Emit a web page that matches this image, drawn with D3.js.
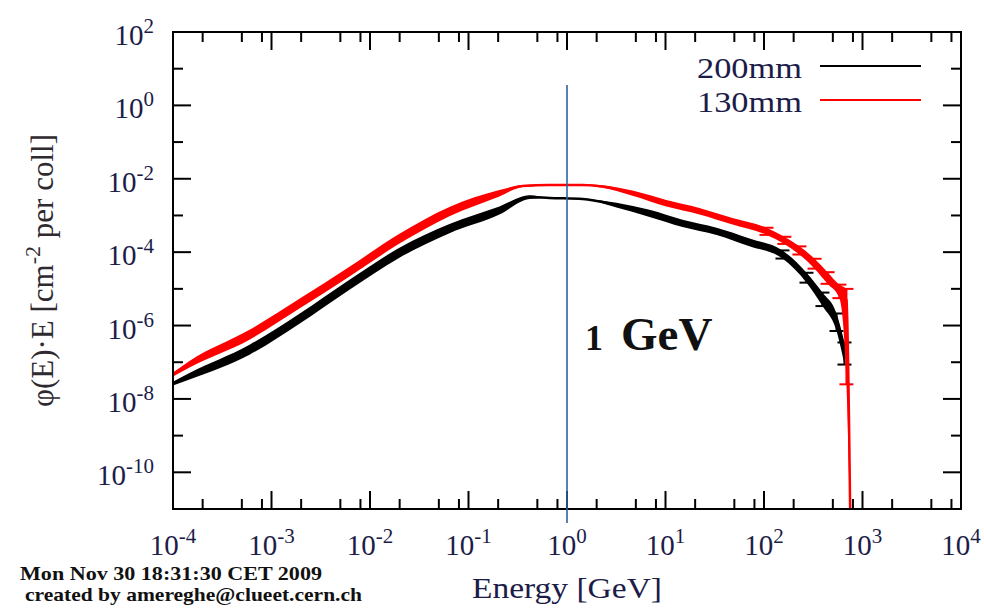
<!DOCTYPE html>
<html>
<head>
<meta charset="utf-8">
<script src="https://cdn.jsdelivr.net/npm/d3@7"></script>
<style>
  body { margin: 0; background: #ffffff; }
  svg { display: block; }
</style>
</head>
<body>
<svg id="chart" width="984" height="613"></svg>
<script>
// Differential flux phi(E)*E per collision for two aperture settings
const energy200 = [1.0e-4, 1.47e-4, 5.98e-4, 1.92e-3, 6.19e-3, 1.99e-2, 6.41e-2, 0.206, 0.416, 0.664, 1.44, 3.18, 6.88, 14.9, 33.0, 71.3, 154, 270, 392, 545, 656];
const flux200   = [2.64e-8, 4.24e-8, 2.30e-7, 1.61e-6, 1.36e-5, 1.01e-4, 4.56e-4, 1.41e-3, 3.19e-3, 3.0e-3, 2.82e-3, 1.93e-3, 1.17e-3, 6.25e-4, 3.79e-4, 1.90e-4, 8.93e-5, 2.11e-5, 5.65e-6, 1.42e-6, 2.16e-7];
const relErr200 = [0.12, 0.2, 0.3, 0.3, 0.3, 0.3, 0.28, 0.25, 0.12, 0.01, 0.01, 0.15, 0.22, 0.22, 0.22, 0.24, 0.25, 0.3, 0.4, 0.5, 0.6];

const energy130 = [1.0e-4, 1.47e-4, 5.98e-4, 1.92e-3, 6.19e-3, 1.99e-2, 6.41e-2, 0.206, 0.353, 0.664, 1.44, 2.29, 4.62, 10.2, 22.1, 47.9, 106, 161, 229, 326, 442, 583, 687, 755];
const flux130   = [4.66e-8, 9.0e-8, 5.9e-7, 4.13e-6, 3.08e-5, 2.44e-4, 1.33e-3, 4.10e-3, 6.37e-3, 6.78e-3, 6.78e-3, 6.17e-3, 4.10e-3, 2.19e-3, 1.33e-3, 7.08e-4, 3.79e-4, 2.15e-4, 1.15e-4, 5.08e-5, 2.11e-5, 9.3e-6, 5.0e-6, 0];
const relErr130 = [0.12, 0.2, 0.3, 0.3, 0.3, 0.3, 0.28, 0.2, 0.06, 0.05, 0.05, 0.08, 0.16, 0.2, 0.2, 0.2, 0.22, 0.22, 0.25, 0.3, 0.35, 0.4, 0.995, 0];

const seriesNames  = ["200mm", "130mm"];
const seriesColors = ["#000000", "#ff0000"];

const xTickPowers = [-4, -3, -2, -1, 0, 1, 2, 3, 4];
const yTickPowers = [2, 0, -2, -4, -6, -8, -10];
const xMinorFactors = [2, 5, 8];

const markerEnergy = 1;
const markerLabelNum = "1";
const markerLabelUnit = "GeV";
const xAxisTitle = "Energy [GeV]";
const yAxisTitle = ["\u03C6(E)\u00B7E [cm", "-2", " per coll]"];
const stampLines = ["Mon Nov 30 18:31:30 CET 2009", "created by amereghe@clueet.cern.ch"];

// ---- layout ----
const box = { left: 173, right: 961, top: 32, bottom: 509 };
const serif = "'Liberation Serif', 'Times New Roman', serif";
const labelColor = "#1c1c48";

const svg = d3.select("#chart");

const x = d3.scaleLog().domain([1e-4, 1e4]).range([box.left, box.right]);
const y = d3.scaleLog().domain([1e-11, 1e2]).range([box.bottom, box.top]);
const yv = v => (v > 0 ? y(v) : box.bottom + 30);

// ---- ticks (inward, mirrored on all four sides) ----
const ticks = svg.append("g").attr("stroke", "#000").attr("stroke-width", 2);
const majorLen = 18, minorLen = 10;

const xMajor = xTickPowers.map(p => Math.pow(10, p));
const xMinor = [];
xTickPowers.slice(0, -1).forEach(p => xMinorFactors.forEach(f => xMinor.push(f * Math.pow(10, p))));

[[xMajor, majorLen], [xMinor, minorLen]].forEach(([vals, len]) => {
  vals.forEach(v => {
    ticks.append("line").attr("x1", x(v)).attr("x2", x(v)).attr("y1", box.bottom).attr("y2", box.bottom - len);
    ticks.append("line").attr("x1", x(v)).attr("x2", x(v)).attr("y1", box.top).attr("y2", box.top + len);
  });
});

d3.range(-11, 3).forEach(p => {
  const v = Math.pow(10, p);
  const len = (p % 2 === 0) ? majorLen : minorLen;
  ticks.append("line").attr("x1", box.left).attr("x2", box.left + len).attr("y1", y(v)).attr("y2", y(v));
  ticks.append("line").attr("x1", box.right).attr("x2", box.right - len).attr("y1", y(v)).attr("y2", y(v));
});

// ---- tick labels ----
function powerLabel(g, p, px, py, anchor) {
  const t = g.append("text")
    .attr("x", px).attr("y", py)
    .attr("text-anchor", anchor)
    .attr("font-family", serif)
    .attr("font-size", 29)
    .attr("fill", labelColor);
  t.append("tspan").text("10");
  t.append("tspan").attr("dy", -12).attr("font-size", 21).text(String(p));
}
const labels = svg.append("g");
xTickPowers.forEach(p => powerLabel(labels, p, x(Math.pow(10, p)), 555, "middle"));
yTickPowers.forEach(p => powerLabel(labels, p, 154, y(Math.pow(10, p)) + 13, "end"));

// ---- axis titles ----
svg.append("text")
  .attr("x", x(markerEnergy)).attr("y", 598)
  .attr("text-anchor", "middle")
  .attr("font-family", serif).attr("font-size", 30)
  .attr("textLength", 190).attr("lengthAdjust", "spacingAndGlyphs")
  .attr("fill", labelColor)
  .text(xAxisTitle);

const yt = svg.append("text")
  .attr("transform", `translate(53,${(box.top + box.bottom) / 2}) rotate(-90)`)
  .attr("text-anchor", "middle")
  .attr("font-family", serif).attr("font-size", 31)
  .attr("fill", "#2e2a30");
yt.append("tspan").text(yAxisTitle[0]);
yt.append("tspan").attr("dy", -13).attr("font-size", 22).text(yAxisTitle[1]);
yt.append("tspan").attr("dy", 13).text(yAxisTitle[2]);

// ---- data series ----
const clip = svg.append("clipPath").attr("id", "plotClip");
clip.append("rect").attr("x", box.left - 8).attr("y", box.top).attr("width", box.right - box.left + 8).attr("height", box.bottom - box.top);

const plot = svg.append("g").attr("clip-path", "url(#plotClip)");

const series = [
  { name: seriesNames[0], color: seriesColors[0], pts: energy200.map((e, i) => ({ e, v: flux200[i], r: relErr200[i] })) },
  { name: seriesNames[1], color: seriesColors[1], pts: energy130.map((e, i) => ({ e, v: flux130[i], r: relErr130[i] })) }
];

const band = d3.area()
  .x(d => x(d.e))
  .y0(d => yv(d.v * (1 - d.r)))
  .y1(d => yv(d.v * (1 + d.r)))
  .curve(d3.curveMonotoneX);
const line = d3.line()
  .x(d => x(d.e))
  .y(d => yv(d.v))
  .curve(d3.curveMonotoneX);

series.forEach(s => {
  const g = plot.append("g");
  g.append("path").attr("d", band(s.pts)).attr("fill", s.color);
  g.append("path").attr("d", line(s.pts)).attr("fill", "none").attr("stroke", s.color).attr("stroke-width", 2.5);
  // error bars on the sparse high-energy tail
  const tail = s.pts.filter(d => d.e > 100 && d.v > 0);
  tail.forEach(d => {
    const yHi = yv(d.v * (1 + d.r)), yLo = yv(d.v * (1 - d.r)), cx = x(d.e);
    g.append("line").attr("x1", cx).attr("x2", cx).attr("y1", yHi).attr("y2", yLo)
      .attr("stroke", s.color).attr("stroke-width", 2);
    [yHi, yLo].forEach(yy => g.append("line")
      .attr("x1", cx - 7).attr("x2", cx + 7).attr("y1", yy).attr("y2", yy)
      .attr("stroke", s.color).attr("stroke-width", 2));
  });
});

// ---- frame ----
svg.append("rect")
  .attr("x", box.left).attr("y", box.top)
  .attr("width", box.right - box.left).attr("height", box.bottom - box.top)
  .attr("fill", "none").attr("stroke", "#000").attr("stroke-width", 2);

// ---- legend ----
const legend = svg.append("g");
series.forEach((s, i) => {
  const ly = 66 + i * 34;
  legend.append("text")
    .attr("x", 802).attr("y", ly + 12)
    .attr("text-anchor", "end")
    .attr("font-family", serif).attr("font-size", 30)
    .attr("textLength", 105).attr("lengthAdjust", "spacingAndGlyphs")
    .attr("fill", labelColor)
    .text(s.name);
  legend.append("line")
    .attr("x1", 820).attr("x2", 921).attr("y1", ly).attr("y2", ly)
    .attr("stroke", s.color).attr("stroke-width", 2);
});

// ---- 1 GeV marker ----
const mx = x(markerEnergy);
svg.append("line")
  .attr("x1", mx).attr("x2", mx).attr("y1", 85).attr("y2", 523)
  .attr("stroke", "#2a64a4").attr("stroke-width", 1.6);
const mt = svg.append("text")
  .attr("y", 350)
  .attr("font-family", serif).attr("font-weight", "bold")
  .attr("fill", "#111");
mt.append("tspan").attr("x", mx + 18).attr("font-size", 36).text(markerLabelNum);
mt.append("tspan").attr("x", mx + 54).attr("font-size", 47).text(markerLabelUnit);

// ---- timestamp ----
stampLines.forEach((t, i) => {
  svg.append("text")
    .attr("x", i === 0 ? 20 : 25).attr("y", i === 0 ? 580 : 601)
    .attr("font-family", serif).attr("font-weight", "bold").attr("font-size", 19)
    .attr("textLength", i === 0 ? 302 : 337).attr("lengthAdjust", "spacingAndGlyphs")
    .attr("fill", "#111")
    .text(t);
});
</script>
</body>
</html>
